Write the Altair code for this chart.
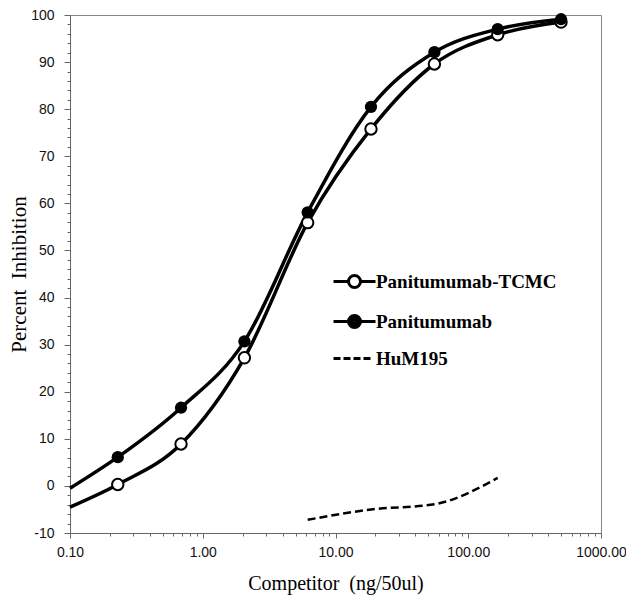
import altair as alt
import pandas as pd

# ---- data ----
series = ["Panitumumab-TCMC", "Panitumumab", "HuM195"]
conc = [0.229, 0.686, 2.06, 6.17, 18.5, 55.6, 166.7, 500.0]
pan = [6.1, 16.6, 30.7, 58.1, 80.5, 92.1, 97.0, 99.1]
tcmc = [0.3, 8.9, 27.2, 55.9, 75.8, 89.6, 95.8, 98.5]
# fitted curves start at the left edge of the plot
curve_start_conc = 0.1
pan_curve_start = -0.5
tcmc_curve_start = -4.5
hum_conc = [6.17, 18.5, 55.6, 166.7]
hum = [-7.2, -5.0, -3.9, 1.7]

x_major = [0.1, 1, 10, 100, 1000]
x_minor = [m * 10 ** e for e in range(-1, 3) for m in range(2, 10)]
y_major = list(range(-10, 101, 10))
y_minor = list(range(-10, 101, 2))

# ---- tables ----
curve_df = pd.DataFrame(
    {
        "conc": [curve_start_conc] + conc + [curve_start_conc] + conc,
        "pct": [tcmc_curve_start] + tcmc + [pan_curve_start] + pan,
        "series": [series[0]] * (len(conc) + 1) + [series[1]] * (len(conc) + 1),
    }
)
tcmc_df = pd.DataFrame({"conc": conc, "pct": tcmc})
pan_df = pd.DataFrame({"conc": conc, "pct": pan})
hum_df = pd.DataFrame({"conc": hum_conc, "pct": hum})
legend_df = pd.DataFrame({"series": series})

xscale = alt.Scale(type="log", domain=[0.1, 1000], nice=False)
yscale = alt.Scale(domain=[-10, 100], nice=False, zero=False)

AX = "#666"
x_axis = alt.Axis(
    orient="bottom", values=x_major, labelExpr="format(datum.value, '.2f')",
    tickSize=5, labelPadding=7, labelFont="Liberation Sans", labelFontSize=14,
    labelColor="#111", labelFlush=False, labelOverlap=False, labelBound=False,
    domainColor=AX, tickColor=AX, grid=False,
    title="Competitor\u00a0\u00a0(ng/50ul)", titleFont="Liberation Serif",
    titleFontSize=20, titleFontWeight="normal", titleColor="black",
    titleBaseline="alphabetic", titleY=56,
)
y_axis = alt.Axis(
    orient="left", values=y_major, labelExpr="datum.value + ''",
    tickSize=6, labelPadding=10, labelFont="Liberation Sans", labelFontSize=14,
    labelColor="#111", labelFlush=False, labelOverlap=False,
    domainColor=AX, tickColor=AX, grid=False,
    title="Percent\u00a0\u00a0Inhibition", titleFont="Liberation Serif",
    titleFontSize=21, titleFontWeight="normal", titleColor="black",
    titleBaseline="middle", titleX=-51,
)
x_minor_axis = alt.Axis(orient="bottom", values=x_minor, labels=False, tickSize=3,
                        domain=False, tickColor=AX, grid=False, title=None)
y_minor_axis = alt.Axis(orient="left", values=y_minor, labels=False, tickSize=3,
                        domain=False, tickColor=AX, grid=False, title=None)

# legend symbols (unit = 5 px): line with open circle, line with filled
# circle (concentric strokes), dashed line
sym_open = ("M-4.2,0H-1.2M1.2,0H4.2M1.2,0A1.2,1.2,0,1,1,-1.2,0"
            "A1.2,1.2,0,1,1,1.2,0Z")
sym_filled = ("M-4.2,0H-1.2M1.2,0H4.2M1.2,0A1.2,1.2,0,1,1,-1.2,0"
              "A1.2,1.2,0,1,1,1.2,0ZM0.7,0A0.7,0.7,0,1,1,-0.7,0"
              "A0.7,0.7,0,1,1,0.7,0ZM0.25,0A0.25,0.25,0,1,1,-0.25,0"
              "A0.25,0.25,0,1,1,0.25,0Z")
sym_dash = "M-4.2,0H-2.8M-2.2,0H-0.8M-0.2,0H1.2M1.8,0H3.2"

leg = alt.Legend(
    title=None, orient="none", legendX=275, legendY=257,
    symbolSize=100, symbolStrokeColor="black", symbolFillColor="white",
    symbolStrokeWidth=3, symbolOpacity=1,
    labelFont="Liberation Serif", labelFontWeight="bold",
    labelFontSize=19, labelColor="black", labelOffset=12, rowPadding=15,
    labelLimit=0,
)

legend_layer = alt.Chart(legend_df).mark_point(
    filled=False, color="black", opacity=0, size=100, strokeWidth=3
).encode(
    shape=alt.Shape("series:N", scale=alt.Scale(domain=series,
                    range=[sym_open, sym_filled, sym_dash]), legend=leg),
)

curves = alt.Chart(curve_df).mark_line(
    interpolate="monotone", color="black", strokeWidth=3.5
).encode(
    x=alt.X("conc:Q", scale=xscale, axis=x_axis),
    y=alt.Y("pct:Q", scale=yscale, axis=y_axis),
    detail="series:N",
)

hum_line = alt.Chart(hum_df).mark_line(
    interpolate="monotone", color="black", strokeWidth=2.5, strokeDash=[8, 4]
).encode(
    x=alt.X("conc:Q", scale=xscale, axis=x_minor_axis),
    y=alt.Y("pct:Q", scale=yscale, axis=y_minor_axis),
)

open_pts = alt.Chart(tcmc_df).mark_point(
    shape="circle", filled=False, fill="white", fillOpacity=1, stroke="black",
    strokeWidth=2, size=130, opacity=1
).encode(
    x=alt.X("conc:Q", scale=xscale, axis=None),
    y=alt.Y("pct:Q", scale=yscale, axis=None),
)

filled_pts = alt.Chart(pan_df).mark_circle(
    color="black", size=150, opacity=1
).encode(
    x=alt.X("conc:Q", scale=xscale, axis=None),
    y=alt.Y("pct:Q", scale=yscale, axis=None),
)

chart = alt.layer(
    legend_layer, curves, hum_line, open_pts, filled_pts
).resolve_axis(
    x="independent", y="independent"
).properties(
    width=531, height=518,
    padding={"left": 62, "top": 7, "right": 25, "bottom": 62},
    autosize=alt.AutoSizeParams(type="none"),
    background="white",
).configure_view(stroke="#888", strokeWidth=1)

chart.save("out.html", embed_options={"renderer": "svg", "actions": False})
